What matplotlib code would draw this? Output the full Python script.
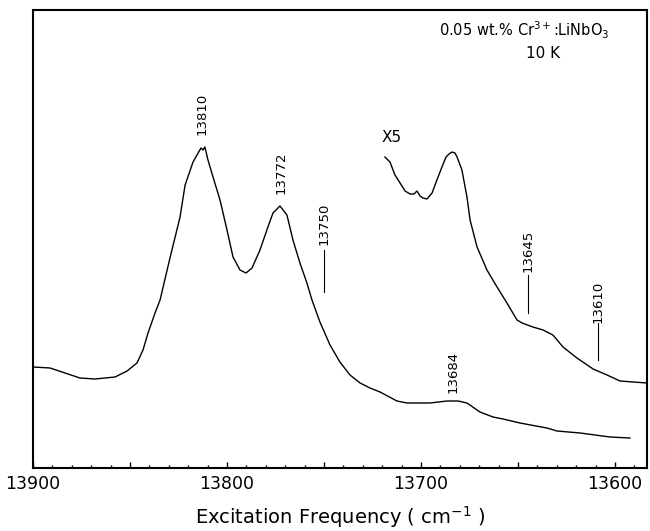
import matplotlib
matplotlib.use("Agg")
import matplotlib.pyplot as plt
from matplotlib.ticker import MultipleLocator, FuncFormatter

# Main spectrum (x1): wavenumber (cm^-1) and intensity (arb. units)
main_wn = [13900.0, 13891.2, 13883.5, 13875.8, 13868.0, 13857.7, 13851.5, 13846.4,
           13843.3, 13840.7, 13837.1, 13834.5, 13829.4, 13824.2, 13821.6, 13817.5,
           13814.9, 13813.4, 13812.4, 13811.4, 13809.8, 13807.2, 13803.6, 13800.0,
           13796.9, 13793.3, 13790.2, 13787.1, 13783.0, 13778.9, 13776.3, 13772.7,
           13769.1, 13766.0, 13762.4, 13758.8, 13756.2, 13752.1, 13746.9, 13741.8,
           13736.6, 13731.4, 13726.3, 13721.1, 13712.4, 13707.2, 13695.4, 13686.6,
           13680.9, 13676.3, 13669.6, 13662.9, 13657.7, 13649.0, 13635.1, 13629.9,
           13618.0, 13602.6, 13592.3]
main_int = [101, 100, 95, 90, 89, 91, 97, 105,
            118, 135, 155, 168, 210, 251, 283, 306,
            315, 320, 318, 321, 308, 291, 268, 238,
            211, 198, 195, 200, 218, 241, 255, 262,
            253, 228, 205, 185, 168, 146, 123, 106,
            93, 85, 80, 76, 67, 65, 65, 67,
            67, 65, 56, 51, 49, 45, 40, 37,
            35, 31, 30]

# Expanded spectrum (x5)
x5_wn = [13718.6, 13716.0, 13713.4, 13710.8, 13708.2, 13705.7, 13703.6, 13702.1,
         13700.5, 13699.0, 13696.9, 13694.3, 13691.8, 13689.2, 13687.1, 13685.6,
         13684.0, 13682.5, 13681.4, 13678.9, 13676.3, 13674.7, 13671.1, 13666.0,
         13660.8, 13655.7, 13650.5, 13647.9, 13642.3, 13637.1, 13632.0, 13626.8,
         13619.6, 13611.3, 13604.1, 13597.4, 13590.7, 13583.5]
x5_int = [311, 306, 293, 285, 277, 274, 274, 277,
          272, 270, 269, 275, 288, 301, 311, 314,
          316, 315, 311, 298, 271, 248, 221, 198,
          181, 165, 148, 145, 141, 138, 133, 121,
          110, 99, 93, 87, 86, 85]

# Peak labels: text, wavenumber, label-centre intensity
peak_labels = ["13810", "13772", "13750", "13684", "13645", "13610"]
peak_wn = [13812.9, 13772.2, 13750.0, 13683.5, 13644.8, 13608.8]
peak_text_int = [354, 295, 244, 96, 217, 166]
# Marker lines under some labels: wavenumber, bottom, top intensity
line_wn = [13750.0, 13644.8, 13608.8]
line_lo = [176, 155, 108]
line_hi = [218, 193, 145]

fig = plt.figure(figsize=(6.5, 5.31), dpi=100)
ax = fig.add_axes([33/650, 1-468/531, 614/650, 458.5/531])

ax.plot(main_wn, main_int, color="black", lw=1.0)
ax.plot(x5_wn, x5_int, color="black", lw=1.0)

for lab, w, yi in zip(peak_labels, peak_wn, peak_text_int):
    ax.text(w, yi, lab, rotation=90, ha="center", va="center", fontsize=9.5)
for w, lo, hi in zip(line_wn, line_lo, line_hi):
    ax.plot([w, w], [lo, hi], color="black", lw=0.8)

ax.text(13714.9, 331, "X5", ha="center", va="center", fontsize=11)
ax.text(0.80, 0.955, r"0.05 wt.% Cr$^{3+}$:LiNbO$_3$", transform=ax.transAxes,
        ha="center", va="center", fontsize=10.5)
ax.text(0.83, 0.905, "10 K", transform=ax.transAxes, ha="center", va="center",
        fontsize=11)

ax.set_xlim(13900, 13583.5)
ax.set_ylim(0, 458.5)
ax.xaxis.set_major_locator(MultipleLocator(50))
ax.xaxis.set_minor_locator(MultipleLocator(10))
ax.xaxis.set_major_formatter(FuncFormatter(
    lambda v, p: f"{int(round(v))}" if int(round(v)) % 100 == 0 else ""))
ax.tick_params(axis="x", which="major", direction="in", length=4, width=1,
               labelsize=12.5, pad=5)
ax.tick_params(axis="x", which="minor", direction="in", length=2.5, width=1)
ax.tick_params(axis="y", left=False, labelleft=False)
for s in ax.spines.values():
    s.set_linewidth(1.5)
ax.set_xlabel(r"Excitation Frequency ( cm$^{-1}$ )", fontsize=14, labelpad=8)

fig.savefig("out.png", dpi=100)
